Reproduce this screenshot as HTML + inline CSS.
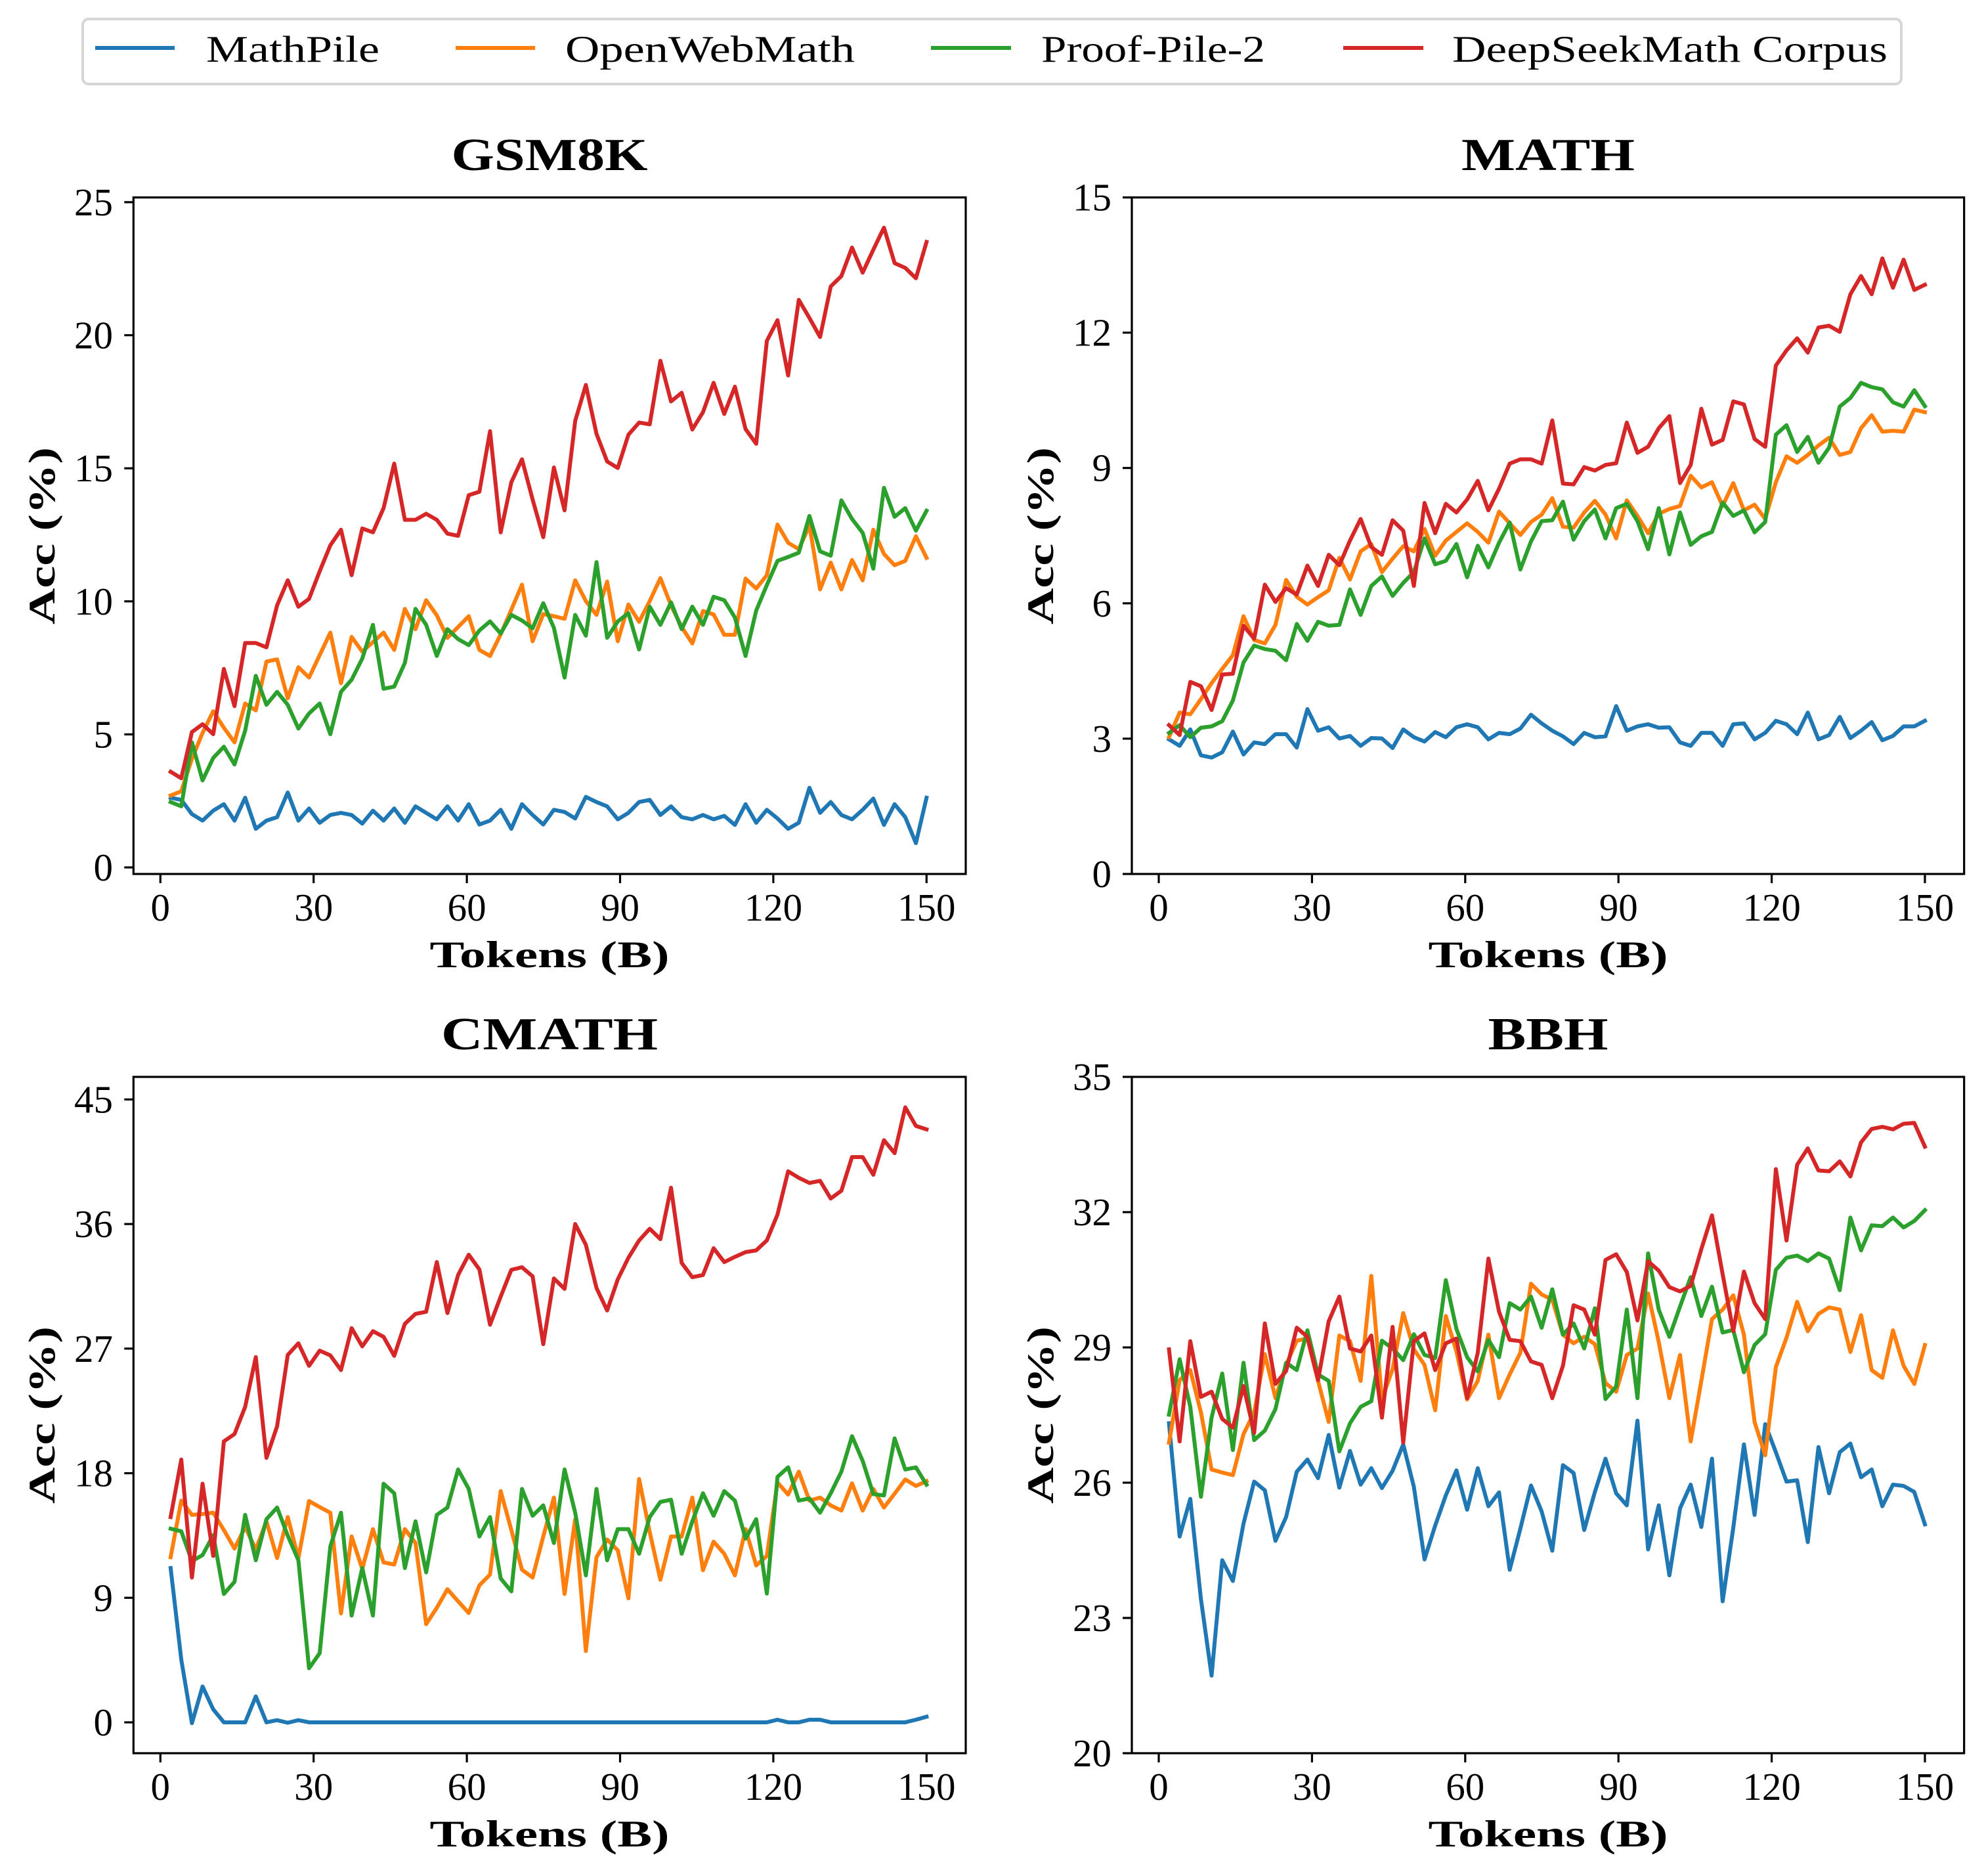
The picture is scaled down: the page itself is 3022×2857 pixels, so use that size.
<!DOCTYPE html>
<html>
<head>
<meta charset="utf-8">
<style>
html,body{margin:0;padding:0;background:#fff;}
svg{display:block;}
text{font-family:"Liberation Serif","DejaVu Serif",serif;fill:#000;}
.tk{font-size:59px;}
.ttl{font-size:70px;font-weight:bold;}
.lbl{font-size:57px;font-weight:bold;}
.lg{font-size:57px;}
.ln{fill:none;stroke-width:6;stroke-linejoin:round;stroke-linecap:square;vector-effect:non-scaling-stroke;}
.b{stroke:#1f77b4;}
.o{stroke:#ff7f0e;}
.g{stroke:#2ca02c;}
.r{stroke:#d62728;}
.sp{fill:none;stroke:#000;stroke-width:3.2;}
.tm{stroke:#000;stroke-width:3.2;}
</style>
</head>
<body>
<svg width="3022" height="2857" viewBox="0 0 3022 2857" xmlns="http://www.w3.org/2000/svg">
<rect x="0" y="0" width="3022" height="2857" fill="#fff"/>

<!-- Legend -->
<rect x="126" y="29" width="2770" height="99" rx="9" ry="9" fill="#fff" stroke="#d6d6d6" stroke-width="4"/>
<line x1="145" y1="73" x2="266" y2="73" stroke="#1f77b4" stroke-width="6"/>
<text class="lg" x="314" y="94" textLength="264" lengthAdjust="spacingAndGlyphs">MathPile</text>
<line x1="694" y1="73" x2="815" y2="73" stroke="#ff7f0e" stroke-width="6"/>
<text class="lg" x="861" y="94" textLength="441" lengthAdjust="spacingAndGlyphs">OpenWebMath</text>
<line x1="1418" y1="73" x2="1540" y2="73" stroke="#2ca02c" stroke-width="6"/>
<text class="lg" x="1586" y="94" textLength="341" lengthAdjust="spacingAndGlyphs">Proof-Pile-2</text>
<line x1="2046" y1="73" x2="2168" y2="73" stroke="#d62728" stroke-width="6"/>
<text class="lg" x="2212" y="94" textLength="663" lengthAdjust="spacingAndGlyphs">DeepSeekMath Corpus</text>

<!-- ================= GSM8K (top-left) ================= -->
<svg x="259.9" y="300" width="1151.4" height="1032" viewBox="0 0 71 1568" preserveAspectRatio="none" overflow="visible">
<polyline class="ln b" points="0,1390 1,1395 2,1428 3,1443 4,1420 5,1405 6,1443 7,1390 8,1462 9,1443 10,1435 11,1378 12,1443 13,1415 14,1448 15,1430 16,1425 17,1430 18,1450 19,1420 20,1443 21,1415 22,1448 23,1410 24,1425 25,1440 26,1410 27,1443 28,1405 29,1452 30,1443 31,1418 32,1462 33,1405 34,1430 35,1452 36,1418 37,1423 38,1438 39,1388 40,1400 41,1410 42,1440 43,1425 44,1400 45,1395 46,1430 47,1410 48,1435 49,1440 50,1430 51,1440 52,1432 53,1453 54,1405 55,1448 56,1418 57,1438 58,1462 59,1448 60,1367 61,1425 62,1400 63,1430 64,1440 65,1418 66,1392 67,1453 68,1405 69,1435 70,1495 71,1390"/>
<polyline class="ln o" points="0,1385 1,1375 2,1300 3,1240 4,1190 5,1228 6,1262 7,1172 8,1188 9,1075 10,1070 11,1160 12,1088 13,1112 14,1060 15,1008 16,1125 17,1018 18,1052 19,1030 20,1008 21,1048 22,953 23,1000 24,933 25,968 26,1020 27,995 28,970 29,1048 30,1062 31,1012 32,955 33,897 34,1028 35,965 36,970 37,976 38,887 39,935 40,967 41,890 42,1028 43,943 44,983 45,935 46,882 47,945 48,995 49,1033 50,958 51,966 52,1013 53,1013 54,883 55,906 56,875 57,758 58,800 59,815 60,760 61,908 62,846 63,908 64,840 65,887 66,770 67,826 68,852 69,842 70,785 71,835"/>
<polyline class="ln g" points="0,1400 1,1410 2,1262 3,1350 4,1298 5,1272 6,1313 7,1235 8,1108 9,1175 10,1145 11,1175 12,1230 13,1195 14,1172 15,1243 16,1145 17,1117 18,1068 19,990 20,1138 21,1133 22,1078 23,953 24,990 25,1062 26,1000 27,1023 28,1037 29,1003 30,982 31,1010 32,967 33,980 34,998 35,940 36,997 37,1112 38,967 39,1015 40,845 41,1020 42,982 43,963 44,1047 45,948 46,990 47,938 48,1000 49,948 50,990 51,925 52,933 53,973 54,1062 55,957 56,898 57,842 58,833 59,823 60,738 61,820 62,830 63,702 64,745 65,777 66,860 67,673 68,740 69,720 70,772 71,726"/>
<polyline class="ln r" points="0,1330 1,1345 2,1238 3,1220 4,1243 5,1092 6,1178 7,1032 8,1032 9,1042 10,945 11,887 12,948 13,930 14,866 15,806 16,770 17,875 18,767 19,776 20,720 21,617 22,747 23,747 24,733 25,747 26,779 27,784 28,690 29,682 30,542 31,776 32,660 33,607 34,700 35,787 36,626 37,725 38,518 39,435 40,548 41,612 42,627 43,550 44,522 45,526 46,379 47,473 48,453 49,538 50,498 51,430 52,502 53,439 54,537 55,571 56,333 57,285 58,413 59,238 60,280 61,324 62,207 63,183 64,117 65,175 66,122 67,71 68,153 69,164 70,188 71,104"/>
</svg>
<rect class="sp" x="203.3" y="300.7" width="1267.7" height="1030.3"/>
<g class="tm">
<line x1="189.3" y1="1321" x2="203.3" y2="1321"/>
<line x1="189.3" y1="1118.4" x2="203.3" y2="1118.4"/>
<line x1="189.3" y1="915.8" x2="203.3" y2="915.8"/>
<line x1="189.3" y1="713.2" x2="203.3" y2="713.2"/>
<line x1="189.3" y1="510.5" x2="203.3" y2="510.5"/>
<line x1="189.3" y1="307.9" x2="203.3" y2="307.9"/>
<line x1="244.3" y1="1331" x2="244.3" y2="1345"/>
<line x1="477.7" y1="1331" x2="477.7" y2="1345"/>
<line x1="711.1" y1="1331" x2="711.1" y2="1345"/>
<line x1="944.5" y1="1331" x2="944.5" y2="1345"/>
<line x1="1177.9" y1="1331" x2="1177.9" y2="1345"/>
<line x1="1411.3" y1="1331" x2="1411.3" y2="1345"/>
</g>
<g class="tk" text-anchor="end">
<text x="172" y="1341">0</text>
<text x="172" y="1138.4">5</text>
<text x="172" y="935.8">10</text>
<text x="172" y="733.2">15</text>
<text x="172" y="530.5">20</text>
<text x="172" y="327.9">25</text>
</g>
<g class="tk" text-anchor="middle">
<text x="244.3" y="1402">0</text>
<text x="477.7" y="1402">30</text>
<text x="711.1" y="1402">60</text>
<text x="944.5" y="1402">90</text>
<text x="1177.9" y="1402">120</text>
<text x="1411.3" y="1402">150</text>
</g>
<text class="ttl" x="837" y="259" text-anchor="middle" textLength="299" lengthAdjust="spacingAndGlyphs">GSM8K</text>
<text class="lbl" x="837" y="1473" text-anchor="middle" textLength="365" lengthAdjust="spacingAndGlyphs">Tokens (B)</text>
<text class="lbl" transform="translate(83,816) rotate(-90)" text-anchor="middle" textLength="270" lengthAdjust="spacingAndGlyphs">Acc (%)</text>

<!-- ================= MATH (top-right) ================= -->
<svg x="1780.6" y="300" width="1151.4" height="1032" viewBox="0 0 71 1568" preserveAspectRatio="none" overflow="visible">
<polyline class="ln b" points="0,1255 1,1270 2,1232 3,1292 4,1297 5,1285 6,1237 7,1290 8,1262 9,1266 10,1243 11,1243 12,1274 13,1185 14,1235 15,1227 16,1253 17,1247 18,1270 19,1252 20,1253 21,1275 22,1232 23,1250 24,1260 25,1238 26,1250 27,1227 28,1220 29,1227 30,1255 31,1240 32,1243 33,1230 34,1198 35,1218 36,1235 37,1248 38,1266 39,1240 40,1250 41,1248 42,1178 43,1235 44,1225 45,1220 46,1228 47,1227 48,1262 49,1270 50,1240 51,1240 52,1270 53,1220 54,1218 55,1255 56,1240 57,1212 58,1220 59,1243 60,1193 61,1255 62,1245 63,1203 64,1252 65,1235 66,1215 67,1257 68,1247 69,1225 70,1225 71,1212"/>
<polyline class="ln o" points="0,1250 1,1193 2,1197 3,1162 4,1125 5,1092 6,1060 7,970 8,1025 9,1033 10,990 11,886 12,925 13,943 14,926 15,910 16,835 17,885 18,820 19,803 20,868 21,837 22,808 23,820 24,768 25,830 26,795 27,775 28,755 29,775 30,800 31,728 32,755 33,782 34,752 35,735 36,697 37,763 38,765 39,730 40,703 41,735 42,790 43,702 44,738 45,778 46,733 47,722 48,715 49,645 50,672 51,660 52,715 53,662 54,725 55,712 56,745 57,660 58,600 59,615 60,597 61,575 62,557 63,597 64,590 65,535 66,505 67,543 68,541 69,543 70,492 71,498"/>
<polyline class="ln g" points="0,1240 1,1222 2,1250 3,1228 4,1225 5,1213 6,1165 7,1077 8,1038 9,1046 10,1050 11,1072 12,988 13,1027 14,983 15,992 16,990 17,908 18,967 19,900 20,878 21,923 22,893 23,868 24,790 25,850 26,842 27,803 28,880 29,807 30,857 31,800 32,753 33,862 34,797 35,750 36,748 37,705 38,793 39,750 40,723 41,790 42,720 43,710 44,750 45,815 46,720 47,827 48,730 49,805 50,785 51,775 52,707 53,738 54,725 55,776 56,752 57,550 58,528 59,590 60,555 61,615 62,580 63,485 64,465 65,430 66,440 67,445 68,475 69,485 70,447 71,484"/>
<polyline class="ln r" points="0,1222 1,1245 2,1122 3,1132 4,1187 5,1105 6,1103 7,992 8,1022 9,897 10,937 11,905 12,920 13,853 14,900 15,828 16,852 17,795 18,745 19,810 20,828 21,748 22,772 23,900 24,708 25,778 26,710 27,730 28,700 29,657 30,725 31,675 32,617 33,607 34,607 35,617 36,517 37,663 38,665 39,625 40,633 41,620 42,616 43,522 44,592 45,578 46,535 47,507 48,662 49,620 50,490 51,573 52,562 53,473 54,480 55,560 56,578 57,390 58,355 59,327 60,360 61,302 62,298 63,312 64,225 65,183 66,225 67,142 68,210 69,145 70,215 71,203"/>
</svg>
<rect class="sp" x="1724" y="300.7" width="1267.7" height="1030.3"/>
<g class="tm">
<line x1="1710" y1="1331" x2="1724" y2="1331"/>
<line x1="1710" y1="1124.9" x2="1724" y2="1124.9"/>
<line x1="1710" y1="918.8" x2="1724" y2="918.8"/>
<line x1="1710" y1="712.7" x2="1724" y2="712.7"/>
<line x1="1710" y1="506.6" x2="1724" y2="506.6"/>
<line x1="1710" y1="300.7" x2="1724" y2="300.7"/>
<line x1="1765" y1="1331" x2="1765" y2="1345"/>
<line x1="1998.4" y1="1331" x2="1998.4" y2="1345"/>
<line x1="2231.8" y1="1331" x2="2231.8" y2="1345"/>
<line x1="2465.2" y1="1331" x2="2465.2" y2="1345"/>
<line x1="2698.6" y1="1331" x2="2698.6" y2="1345"/>
<line x1="2932" y1="1331" x2="2932" y2="1345"/>
</g>
<g class="tk" text-anchor="end">
<text x="1693" y="1351">0</text>
<text x="1693" y="1144.9">3</text>
<text x="1693" y="938.8">6</text>
<text x="1693" y="732.7">9</text>
<text x="1693" y="526.6">12</text>
<text x="1693" y="320.7">15</text>
</g>
<g class="tk" text-anchor="middle">
<text x="1765" y="1402">0</text>
<text x="1998.4" y="1402">30</text>
<text x="2231.8" y="1402">60</text>
<text x="2465.2" y="1402">90</text>
<text x="2698.6" y="1402">120</text>
<text x="2932" y="1402">150</text>
</g>
<text class="ttl" x="2358" y="259" text-anchor="middle" textLength="264" lengthAdjust="spacingAndGlyphs">MATH</text>
<text class="lbl" x="2358" y="1473" text-anchor="middle" textLength="365" lengthAdjust="spacingAndGlyphs">Tokens (B)</text>
<text class="lbl" transform="translate(1604,816) rotate(-90)" text-anchor="middle" textLength="270" lengthAdjust="spacingAndGlyphs">Acc (%)</text>

<!-- ================= CMATH (bottom-left) ================= -->
<svg x="259.9" y="1639" width="1151.4" height="1032" viewBox="0 0 71 1568" preserveAspectRatio="none" overflow="visible">
<polyline class="ln b" points="0,1138 1,1350 2,1497 3,1412 4,1465 5,1495 6,1495 7,1495 8,1435 9,1495 10,1490 11,1496 12,1490 13,1495 56,1495 57,1489 58,1495 59,1495 60,1489 61,1489 62,1495 69,1495 70,1489 71,1482"/>
<polyline class="ln o" points="0,1113 1,982 2,1015 3,1013 4,1010 5,1050 6,1093 7,1043 8,1095 9,1030 10,1115 11,1020 12,1115 13,983 14,997 15,1010 16,1243 17,1065 18,1140 19,1048 20,1125 21,1130 22,1048 23,1080 24,1268 25,1230 26,1187 27,1215 28,1242 29,1178 30,1153 31,960 32,1050 33,1142 34,1160 35,1065 36,975 37,1198 38,1025 39,1330 40,1113 41,1072 42,1097 43,1208 44,932 45,1055 46,1165 47,1065 48,1065 49,975 50,1143 51,1077 52,1105 53,1155 54,1048 55,1132 56,1110 57,940 58,968 59,915 60,982 61,975 62,993 63,1005 64,942 65,1005 66,955 67,998 68,966 69,933 70,948 71,937"/>
<polyline class="ln g" points="0,1047 1,1053 2,1122 3,1108 4,1062 5,1198 6,1170 7,1015 8,1120 9,1025 10,998 11,1063 12,1120 13,1370 14,1335 15,1088 16,1010 17,1248 18,1138 19,1248 20,943 21,965 22,1138 23,1030 24,1148 25,1015 26,998 27,910 28,955 29,1065 30,1020 31,1162 32,1192 33,955 34,1017 35,993 36,1080 37,910 38,1010 39,1155 40,955 41,1120 42,1048 43,1048 44,1105 45,1020 46,985 47,980 48,1105 49,1030 50,965 51,1017 52,960 53,982 54,1070 55,1025 56,1197 57,927 58,905 59,982 60,977 61,1010 62,965 63,915 64,833 65,890 66,967 67,970 68,838 69,910 70,905 71,945"/>
<polyline class="ln r" points="0,1020 1,887 2,1160 3,943 4,1110 5,845 6,828 7,765 8,650 9,883 10,810 11,645 12,618 13,670 14,635 15,646 16,680 17,583 18,625 19,590 20,603 21,647 22,573 23,550 24,545 25,430 26,548 27,460 28,413 29,447 30,575 31,510 32,448 33,442 34,463 35,620 36,468 37,492 38,342 39,390 40,490 41,542 42,470 43,420 44,380 45,353 46,377 47,258 48,432 49,465 50,460 51,398 52,430 53,418 54,407 55,403 56,380 57,320 58,220 59,235 60,247 61,242 62,283 63,265 64,187 65,187 66,228 67,148 68,178 69,72 70,115 71,123"/>
</svg>
<rect class="sp" x="203.3" y="1640" width="1267.7" height="1030"/>
<g class="tm">
<line x1="189.3" y1="2623" x2="203.3" y2="2623"/>
<line x1="189.3" y1="2433.3" x2="203.3" y2="2433.3"/>
<line x1="189.3" y1="2243.6" x2="203.3" y2="2243.6"/>
<line x1="189.3" y1="2053.8" x2="203.3" y2="2053.8"/>
<line x1="189.3" y1="1864.1" x2="203.3" y2="1864.1"/>
<line x1="189.3" y1="1674.4" x2="203.3" y2="1674.4"/>
<line x1="244.3" y1="2670" x2="244.3" y2="2684"/>
<line x1="477.7" y1="2670" x2="477.7" y2="2684"/>
<line x1="711.1" y1="2670" x2="711.1" y2="2684"/>
<line x1="944.5" y1="2670" x2="944.5" y2="2684"/>
<line x1="1177.9" y1="2670" x2="1177.9" y2="2684"/>
<line x1="1411.3" y1="2670" x2="1411.3" y2="2684"/>
</g>
<g class="tk" text-anchor="end">
<text x="172" y="2643">0</text>
<text x="172" y="2453.3">9</text>
<text x="172" y="2263.6">18</text>
<text x="172" y="2073.8">27</text>
<text x="172" y="1884.1">36</text>
<text x="172" y="1694.4">45</text>
</g>
<g class="tk" text-anchor="middle">
<text x="244.3" y="2741">0</text>
<text x="477.7" y="2741">30</text>
<text x="711.1" y="2741">60</text>
<text x="944.5" y="2741">90</text>
<text x="1177.9" y="2741">120</text>
<text x="1411.3" y="2741">150</text>
</g>
<text class="ttl" x="837" y="1598" text-anchor="middle" textLength="330" lengthAdjust="spacingAndGlyphs">CMATH</text>
<text class="lbl" x="837" y="2812" text-anchor="middle" textLength="365" lengthAdjust="spacingAndGlyphs">Tokens (B)</text>
<text class="lbl" transform="translate(83,2155) rotate(-90)" text-anchor="middle" textLength="270" lengthAdjust="spacingAndGlyphs">Acc (%)</text>

<!-- ================= BBH (bottom-right) ================= -->
<svg x="1780.6" y="1639" width="1151.4" height="1032" viewBox="0 0 71 1568" preserveAspectRatio="none" overflow="visible">
<polyline class="ln b" points="0,803 1,1065 2,978 3,1210 4,1387 5,1120 6,1168 7,1035 8,938 9,958 10,1075 11,1020 12,915 13,887 14,930 15,830 16,952 17,867 18,945 19,907 20,953 21,913 22,852 23,950 24,1118 25,1040 26,970 27,912 28,1003 29,907 30,995 31,963 32,1142 33,1047 34,947 35,1007 36,1098 37,900 38,918 39,1050 40,962 41,885 42,965 43,993 44,797 45,1095 46,993 47,1155 48,1000 49,945 50,1043 51,885 52,1215 53,1045 54,852 55,1015 56,805 57,870 58,938 59,935 60,1078 61,858 62,965 63,870 64,850 65,928 66,910 67,995 68,945 69,948 70,962 71,1037"/>
<polyline class="ln o" points="0,848 1,703 2,680 3,778 4,910 5,917 6,923 7,828 8,778 9,643 10,745 11,668 12,612 13,607 14,705 15,800 16,600 17,613 18,705 19,462 20,748 21,678 22,548 23,632 24,668 25,773 26,555 27,637 28,748 29,705 30,598 31,745 32,690 33,640 34,480 35,505 36,517 37,598 38,618 39,603 40,620 41,710 42,730 43,645 44,630 45,503 46,615 47,745 48,645 49,845 50,705 51,562 52,540 53,507 54,598 55,800 56,877 57,673 58,605 59,522 60,590 61,550 62,535 63,540 64,638 65,553 66,680 67,698 68,588 69,670 70,712 71,622"/>
<polyline class="ln g" points="0,783 1,655 2,765 3,973 4,790 5,688 6,865 7,663 8,842 9,820 10,770 11,663 12,680 13,588 14,690 15,705 16,868 17,803 18,765 19,752 20,612 21,630 22,657 23,597 24,645 25,652 26,472 27,585 28,650 29,683 30,610 31,650 32,525 33,540 34,510 35,582 36,493 37,598 38,572 39,630 40,537 41,747 42,718 43,540 44,745 45,410 46,540 47,603 48,533 49,465 50,555 51,487 52,593 53,587 54,685 55,622 56,597 57,448 58,420 59,415 60,428 61,410 62,422 63,495 64,327 65,403 66,345 67,347 68,327 69,350 70,335 71,310"/>
<polyline class="ln r" points="0,632 1,845 2,613 3,742 4,730 5,793 6,813 7,717 8,825 9,572 10,712 11,682 12,582 13,603 14,703 15,567 16,510 17,630 18,637 19,600 20,790 21,580 22,848 23,613 24,595 25,680 26,618 27,607 28,745 29,640 30,422 31,545 32,610 33,613 34,660 35,668 36,745 37,670 38,530 39,540 40,598 41,425 42,412 43,453 44,565 45,428 46,450 47,488 48,498 49,485 50,400 51,322 52,458 53,590 54,452 55,525 56,562 57,215 58,380 59,205 60,167 61,218 62,220 63,197 64,232 65,153 66,122 67,117 68,123 69,110 70,108 71,163"/>
</svg>
<rect class="sp" x="1724" y="1640" width="1267.7" height="1030"/>
<g class="tm">
<line x1="1710" y1="2670" x2="1724" y2="2670"/>
<line x1="1710" y1="2464" x2="1724" y2="2464"/>
<line x1="1710" y1="2258" x2="1724" y2="2258"/>
<line x1="1710" y1="2052" x2="1724" y2="2052"/>
<line x1="1710" y1="1846" x2="1724" y2="1846"/>
<line x1="1710" y1="1640" x2="1724" y2="1640"/>
<line x1="1765" y1="2670" x2="1765" y2="2684"/>
<line x1="1998.4" y1="2670" x2="1998.4" y2="2684"/>
<line x1="2231.8" y1="2670" x2="2231.8" y2="2684"/>
<line x1="2465.2" y1="2670" x2="2465.2" y2="2684"/>
<line x1="2698.6" y1="2670" x2="2698.6" y2="2684"/>
<line x1="2932" y1="2670" x2="2932" y2="2684"/>
</g>
<g class="tk" text-anchor="end">
<text x="1693" y="2690">20</text>
<text x="1693" y="2484">23</text>
<text x="1693" y="2278">26</text>
<text x="1693" y="2072">29</text>
<text x="1693" y="1866">32</text>
<text x="1693" y="1660">35</text>
</g>
<g class="tk" text-anchor="middle">
<text x="1765" y="2741">0</text>
<text x="1998.4" y="2741">30</text>
<text x="2231.8" y="2741">60</text>
<text x="2465.2" y="2741">90</text>
<text x="2698.6" y="2741">120</text>
<text x="2932" y="2741">150</text>
</g>
<text class="ttl" x="2358" y="1598" text-anchor="middle" textLength="183" lengthAdjust="spacingAndGlyphs">BBH</text>
<text class="lbl" x="2358" y="2812" text-anchor="middle" textLength="365" lengthAdjust="spacingAndGlyphs">Tokens (B)</text>
<text class="lbl" transform="translate(1604,2155) rotate(-90)" text-anchor="middle" textLength="270" lengthAdjust="spacingAndGlyphs">Acc (%)</text>

</svg>
</body>
</html>
